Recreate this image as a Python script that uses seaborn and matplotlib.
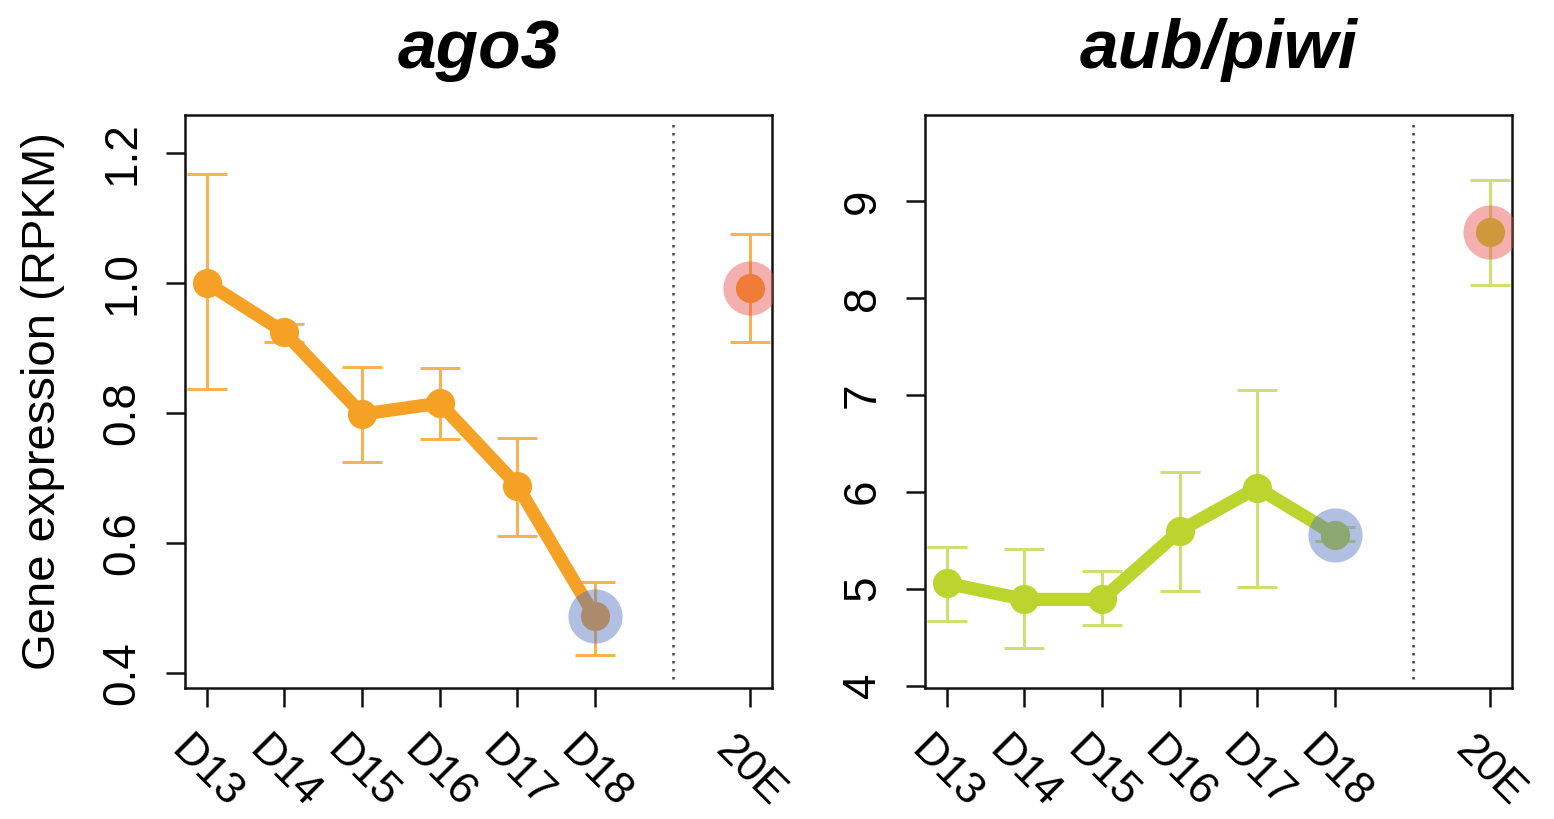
import numpy as np
import pandas as pd
import matplotlib
matplotlib.use("Agg")
import matplotlib.pyplot as plt
import seaborn as sns

# ---------------- data ----------------
stages = ["D13", "D14", "D15", "D16", "D17", "D18"]
treatment = "20E"

ago3_mean = [1.000, 0.924, 0.798, 0.815, 0.688, 0.487]
ago3_low = [0.836, 0.909, 0.725, 0.760, 0.611, 0.428]
ago3_high = [1.167, 0.937, 0.870, 0.869, 0.762, 0.540]
ago3_20e = [0.992]
ago3_20e_low = [0.909]
ago3_20e_high = [1.075]

aub_mean = [5.056, 4.889, 4.889, 5.596, 6.041, 5.556]
aub_low = [4.662, 4.384, 4.623, 4.980, 5.016, 5.493]
aub_high = [5.433, 5.405, 5.187, 6.208, 7.054, 5.636]
aub_20e = [8.682]
aub_20e_low = [8.134]
aub_20e_high = [9.211]

titles = ["ago3", "aub/piwi"]
ylabel = "Gene expression (RPKM)"
ago3_yticks = [0.4, 0.6, 0.8, 1.0, 1.2]
ago3_yticklabels = ["0.4", "0.6", "0.8", "1.0", "1.2"]
aub_yticks = [4, 5, 6, 7, 8, 9]
aub_yticklabels = ["4", "5", "6", "7", "8", "9"]

# ---------------- style ----------------
sns.set_style("ticks")
plt.rcParams["font.family"] = ["Liberation Sans", "DejaVu Sans"]
plt.rcParams["text.color"] = "black"
plt.rcParams["axes.labelcolor"] = "black"
plt.rcParams["xtick.color"] = "black"
plt.rcParams["ytick.color"] = "black"

fig = plt.figure(figsize=(15.54, 8.19), dpi=100)
ax_w = 587 / 1554
ax_h = 573 / 819
ax_b = 1 - 688 / 819
axes = [fig.add_axes([185 / 1554, ax_b, ax_w, ax_h]),
        fig.add_axes([925 / 1554, ax_b, ax_w, ax_h])]

panels = [
    dict(mean=ago3_mean, lo=ago3_low, hi=ago3_high, t=ago3_20e, tlo=ago3_20e_low,
         thi=ago3_20e_high, color="#F5A126", ecolor="#F5B451",
         ylim=(0.377, 1.258), yticks=ago3_yticks, yticklabels=ago3_yticklabels),
    dict(mean=aub_mean, lo=aub_low, hi=aub_high, t=aub_20e, tlo=aub_20e_low,
         thi=aub_20e_high, color="#BCD42E", ecolor="#CFDF72",
         ylim=(3.975, 9.886), yticks=aub_yticks, yticklabels=aub_yticklabels),
]

x_stage = np.arange(1, len(stages) + 1)
x_treat = len(stages) + 2
sep = len(stages) + 1

for i, (ax, p) in enumerate(zip(axes, panels)):
    df = pd.DataFrame({"x": x_stage, "y": p["mean"], "stage": stages})
    dft = pd.DataFrame({"x": [x_treat], "y": p["t"], "stage": [treatment]})

    # error bars
    ax.errorbar(df["x"], df["y"],
                yerr=[np.array(p["mean"]) - np.array(p["lo"]),
                      np.array(p["hi"]) - np.array(p["mean"])],
                fmt="none", ecolor=p["ecolor"], elinewidth=2.2, capsize=14.5,
                capthick=2.2, zorder=2)
    ax.errorbar(dft["x"], dft["y"],
                yerr=[np.array(p["t"]) - np.array(p["tlo"]),
                      np.array(p["thi"]) - np.array(p["t"])],
                fmt="none", ecolor=p["ecolor"], elinewidth=2.2, capsize=14.5,
                capthick=2.2, zorder=2)

    # main line with markers
    sns.lineplot(data=df, x="x", y="y", ax=ax, color=p["color"], linewidth=9.5,
                 marker="o", markersize=21, markeredgewidth=0,
                 markerfacecolor=p["color"], zorder=3)
    # treatment point
    sns.scatterplot(data=dft, x="x", y="y", ax=ax, color=p["color"], s=21 ** 2,
                    linewidth=0, zorder=3)

    # highlight halos
    sns.scatterplot(data=df.iloc[[-1]], x="x", y="y", ax=ax, color="#5272C2",
                    alpha=0.45, s=39 ** 2, linewidth=0, zorder=4)
    sns.scatterplot(data=dft, x="x", y="y", ax=ax, color="#E8504F",
                    alpha=0.45, s=39 ** 2, linewidth=0, zorder=4)

    # dotted separator
    ax.axvline(sep, ymin=0.015, ymax=0.985, color="#444444", linestyle=(0, (1, 2.2)),
               linewidth=1.8, zorder=1)

    ax.set_xlim(0.72, 8.28)
    ax.set_ylim(*p["ylim"])
    ax.set_xticks(list(x_stage) + [x_treat])
    ax.set_xticklabels(stages + [treatment], rotation=-45, ha="center", va="top",
                       fontsize=32)
    ax.set_yticks(p["yticks"])
    ax.set_yticklabels(p["yticklabels"], rotation=90, va="center", fontsize=33)
    ax.tick_params(axis="both", length=14, width=1.8, color="#111111")
    ax.tick_params(axis="x", pad=16)
    ax.tick_params(axis="y", pad=15)
    for s in ax.spines.values():
        s.set_visible(True)
        s.set_linewidth(1.8)
        s.set_color("#111111")
    ax.set_xlabel("")
    ax.set_ylabel("")
    ax.set_title(titles[i], fontsize=50, fontweight="bold", fontstyle="italic",
                 pad=34, color="black")
    if ax.get_legend() is not None:
        ax.get_legend().remove()

axes[0].set_ylabel(ylabel, fontsize=34, labelpad=26, color="black")

fig.savefig("out.png", dpi=100, facecolor="white")
